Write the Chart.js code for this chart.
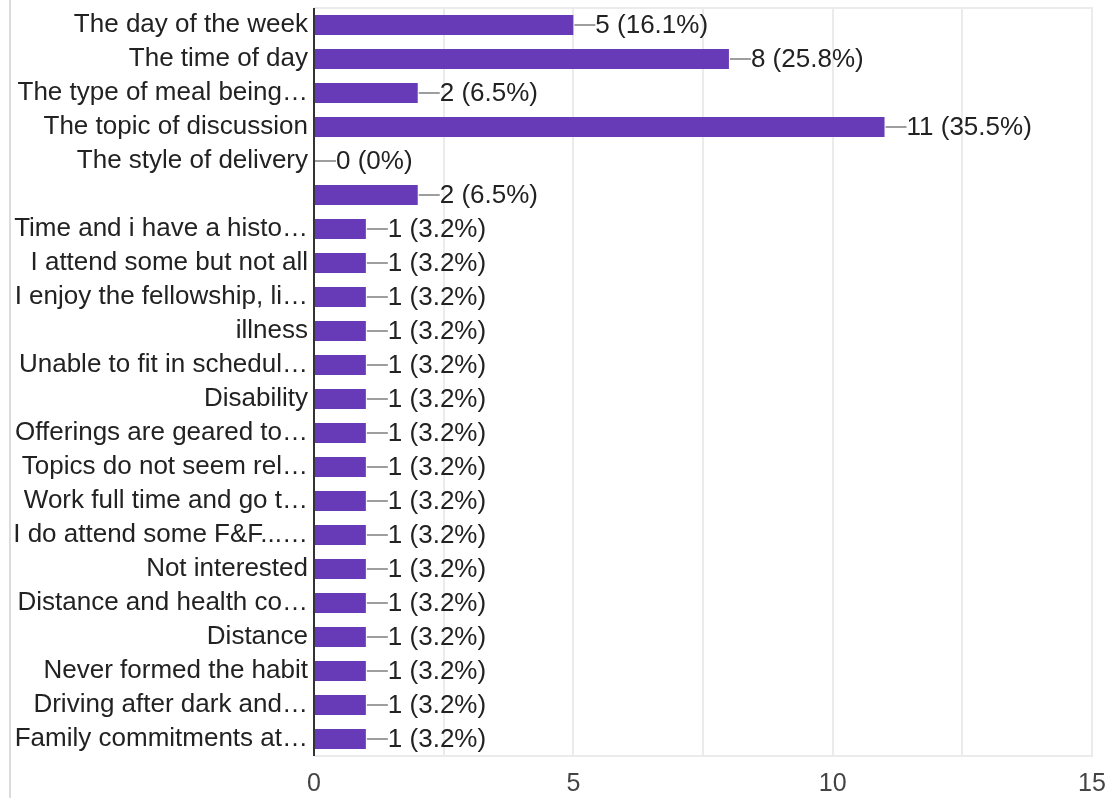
<!DOCTYPE html>
<html>
<head>
<meta charset="utf-8">
<script src="https://cdn.jsdelivr.net/npm/chart.js@4/dist/chart.umd.min.js"></script>
<style>
  html, body { margin: 0; padding: 0; background: #fff; }
  #wrap { position: relative; width: 1112px; height: 798px; }
</style>
</head>
<body>
<div id="wrap"><canvas id="answersChart" width="1112" height="798"></canvas></div>
<script>
// answers (labels as shown, already cut with an ellipsis)
const categories = [
    "The day of the week",
    "The time of day",
    "The type of meal being…",
    "The topic of discussion",
    "The style of delivery",
    "",
    "Time and i have a histo…",
    "I attend some but not all",
    "I enjoy the fellowship, li…",
    "illness",
    "Unable to fit in schedul…",
    "Disability",
    "Offerings are geared to…",
    "Topics do not seem rel…",
    "Work full time and go t…",
    "I do attend some F&F...…",
    "Not interested",
    "Distance and health co…",
    "Distance",
    "Never formed the habit",
    "Driving after dark and…",
    "Family commitments at…"
];
const counts = [5, 8, 2, 11, 0, 2, 1, 1, 1, 1, 1, 1, 1, 1, 1, 1, 1, 1, 1, 1, 1, 1];
const percents = ["16.1%", "25.8%", "6.5%", "35.5%", "0%", "6.5%", "3.2%", "3.2%", "3.2%", "3.2%",
    "3.2%", "3.2%", "3.2%", "3.2%", "3.2%", "3.2%", "3.2%", "3.2%", "3.2%", "3.2%", "3.2%", "3.2%"];
const xTicks = [0, 5, 10, 15];

const FONT = "'Liberation Sans', Arial, sans-serif";

// frame line on the left + light border around the plot
const framePlugin = {
    id: "frame",
    beforeDraw: function (chart) {
        const ctx = chart.ctx;
        ctx.save();
        ctx.strokeStyle = "#dadce0";
        ctx.lineWidth = 2;
        ctx.beginPath();
        ctx.moveTo(10, 0);
        ctx.lineTo(10, 798);
        ctx.stroke();
        ctx.restore();
    },
    afterDraw: function (chart) {
        const a = chart.chartArea;
        const ctx = chart.ctx;
        ctx.save();
        ctx.strokeStyle = "#ebebeb";
        ctx.lineWidth = 2;
        ctx.beginPath();
        ctx.moveTo(a.left, a.top);
        ctx.lineTo(a.right, a.top);
        ctx.lineTo(a.right, a.bottom);
        ctx.lineTo(a.left, a.bottom);
        ctx.stroke();
        // dark axis line
        ctx.strokeStyle = "#333333";
        ctx.beginPath();
        ctx.moveTo(a.left, a.top);
        ctx.lineTo(a.left, a.bottom);
        ctx.stroke();
        ctx.restore();
    }
};

// "—5 (16.1%)" style labels at the end of every bar
const valueLabels = {
    id: "valueLabels",
    afterDatasetsDraw: function (chart) {
        const ctx = chart.ctx;
        const meta = chart.getDatasetMeta(0);
        ctx.save();
        ctx.font = "26px " + FONT;
        ctx.textBaseline = "middle";
        ctx.textAlign = "left";
        meta.data.forEach((bar, i) => {
            const x = bar.x + 1;
            const y = bar.y;
            ctx.strokeStyle = "#9e9e9e";
            ctx.lineWidth = 2;
            ctx.beginPath();
            ctx.moveTo(x, y);
            ctx.lineTo(x + 21, y);
            ctx.stroke();
            ctx.fillStyle = "#222222";
            ctx.fillText(counts[i] + " (" + percents[i] + ")", x + 21, y + 1);
        });
        ctx.restore();
    }
};

const ctx = document.getElementById("answersChart");
new Chart(ctx, {
    type: "bar",
    data: {
        labels: categories,
        datasets: [{
            data: counts,
            backgroundColor: "#673ab7",
            borderWidth: 0,
            categoryPercentage: 0.59,
            barPercentage: 1.0
        }]
    },
    options: {
        indexAxis: "y",
        responsive: false,
        animation: false,
        layout: { padding: { top: 8, right: 20, bottom: 0, left: 0 } },
        plugins: {
            legend: { display: false },
            tooltip: { enabled: false }
        },
        scales: {
            x: {
                min: 0,
                max: 15,
                ticks: {
                    stepSize: 2.5,
                    autoSkip: false,
                    maxRotation: 0,
                    padding: 13,
                    color: "#444444",
                    font: { family: FONT, size: 25 },
                    callback: function (v) { return xTicks.includes(v) ? String(v) : ""; }
                },
                grid: { color: "#ebebeb", lineWidth: 2, drawTicks: false },
                border: { display: false },
                afterFit: function (scale) {
                    scale.height = 42;
                    scale.paddingLeft = 0;
                    scale.paddingRight = 0;
                }
            },
            y: {
                ticks: {
                    autoSkip: false,
                    padding: 6,
                    color: "#222222",
                    font: { family: FONT, size: 26 }
                },
                grid: { display: false, drawTicks: false },
                border: { display: false },
                afterFit: function (scale) {
                    scale.width = 314;
                    scale.paddingTop = 0;
                    scale.paddingBottom = 0;
                }
            }
        }
    },
    plugins: [framePlugin, valueLabels]
});
</script>
</body>
</html>
